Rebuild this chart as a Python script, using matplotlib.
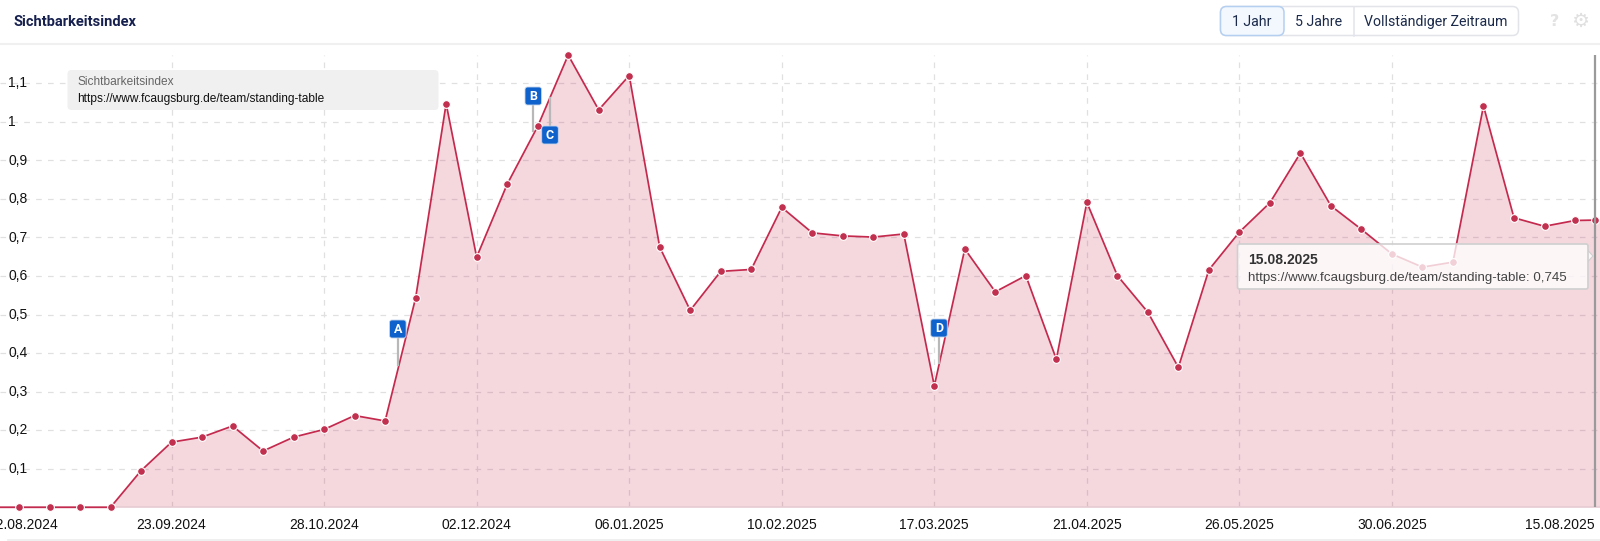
import matplotlib
matplotlib.use("Agg")
import matplotlib.pyplot as plt
import matplotlib.dates as mdates
from matplotlib.patches import FancyBboxPatch, Polygon
import pandas as pd

plt.rcParams['font.family'] = ['Liberation Sans', 'DejaVu Sans']

W, H = 1600, 541

title = "Sichtbarkeitsindex"
url = "https://www.fcaugsburg.de/team/standing-table"
range_buttons = ["1 Jahr", "5 Jahre", "Vollständiger Zeitraum"]

week_start = "2024-08-12"
values = [0, 0, 0, 0, 0, 0.095, 0.169, 0.182, 0.211, 0.146, 0.182, 0.202, 0.238, 0.224,
          0.543, 1.047, 0.649, 0.838, 0.988, 1.173, 1.031, 1.12, 0.675, 0.511,
          0.612, 0.617, 0.778, 0.712, 0.704, 0.701, 0.709, 0.315, 0.670, 0.559, 0.601,
          0.384, 0.791, 0.601, 0.506, 0.363, 0.616, 0.714, 0.79, 0.919, 0.782, 0.721,
          0.657, 0.623, 0.636, 1.041, 0.751, 0.729, 0.744]
last_date = "2025-08-15 14:00"
last_value = 0.745

y_ticks = [0.1, 0.2, 0.3, 0.4, 0.5, 0.6, 0.7, 0.8, 0.9, 1.0, 1.1]
y_labels = ["0,1", "0,2", "0,3", "0,4", "0,5", "0,6", "0,7", "0,8", "0,9", "1", "1,1"]

grid_dates = ["2024-09-23", "2024-10-28", "2024-12-02", "2025-01-06", "2025-02-10",
              "2025-03-17", "2025-04-21", "2025-05-26", "2025-06-30"]
grid_labels = ["23.09.2024", "28.10.2024", "02.12.2024", "06.01.2025", "10.02.2025",
               "17.03.2025", "21.04.2025", "26.05.2025", "30.06.2025"]
first_tick_date = "2024-08-20"
first_tick_label = "12.08.2024"
last_tick_label = "15.08.2025"
tooltip_date = "15.08.2025"
tooltip_value = "0,745"

dates = list(pd.date_range(week_start, periods=len(values), freq="7D")) + [pd.Timestamp(last_date)]
ys = values + [last_value]
xs = mdates.date2num(dates)

fig = plt.figure(figsize=(W / 100, H / 100), dpi=100, facecolor="white")

# plot area in pixels: x 0..1600, y 55..507.3
TOP, BOT = 55, 507.3
ax = fig.add_axes([0, 1 - BOT / H, 1, (BOT - TOP) / H])
PX_DAY = 30.51 / 7
d0 = mdates.date2num(pd.Timestamp("2024-08-19"))
ax.set_xlim(d0 - 19 / PX_DAY, d0 + (W - 19) / PX_DAY)
ax.set_ylim(0, (BOT - TOP) / 385.5)
for s in ax.spines.values():
    s.set_visible(False)
ax.spines['bottom'].set_visible(True)
ax.spines['bottom'].set_color("#e6ccd2")
ax.spines['bottom'].set_linewidth(1.2)
ax.patch.set_alpha(0)

GRID = "#e0e0e0"
dash = (0, (4.5, 5))
ax.hlines(y_ticks, *ax.get_xlim(), colors=GRID, linewidth=0.9, linestyles=[dash], zorder=1)
ax.vlines(mdates.date2num(pd.to_datetime(grid_dates)), 0, ax.get_ylim()[1],
          colors=GRID, linewidth=0.9, linestyles=[dash], zorder=1)

RED = "#c42a4e"
ax.fill_between(list(xs) + [ax.get_xlim()[1]], ys + [last_value], 0, color="#c5284c",
                alpha=0.18, linewidth=0, zorder=2)
ax.plot(xs, ys, color=RED, lw=1.25, zorder=3, clip_on=False)
ax.plot(xs, ys, ls="none", marker="o", ms=5.6, mfc="#c2304f", mec="white", mew=0.8,
        zorder=4, clip_on=False)
ax.axvline(xs[-1], color="#9a9a9a", lw=1.6, zorder=5)

# tick labels
ax.set_yticks([])
tick_pos = [mdates.date2num(pd.Timestamp(first_tick_date))] + \
    list(mdates.date2num(pd.to_datetime(grid_dates))) + [xs[-1]]
tick_txt = [first_tick_label] + grid_labels + [last_tick_label]
ax.set_xticks(tick_pos)
ax.set_xticklabels(tick_txt, fontsize=10, color="#111111")
ax.tick_params(axis='x', length=0, pad=8)
ax.get_xticklabels()[-1].set_ha("right")

# overlay in pixel coordinates
ov = fig.add_axes([0, 0, 1, 1])
ov.set_xlim(0, W)
ov.set_ylim(H, 0)
ov.axis("off")
ov.patch.set_alpha(0)

# y labels
for v, lab in zip(y_ticks, y_labels):
    ov.text(8.3, BOT - v * 385.5 + 0.2, lab, fontsize=10, color="#111111", ha="left", va="center")

# header
ov.plot([0, W], [44, 44], color="#f0f0f0", lw=1.5)
ov.text(14, 22, title, family="Roboto", fontsize=10.5, fontweight="bold", color="#16204f",
        ha="left", va="center")

# range buttons
ov.add_patch(FancyBboxPatch((1220.5, 6.5), 298, 29, boxstyle="round,pad=0,rounding_size=6",
                            fc="white", ec="#e2e4ea", lw=1.1))
ov.add_patch(FancyBboxPatch((1220.5, 6.5), 63.5, 29, boxstyle="round,pad=0,rounding_size=6",
                            fc="#f3f8ff", ec="#b4cff0", lw=1.1))
ov.plot([1354.3, 1354.3], [6.5, 35.5], color="#e2e4ea", lw=1.1)
for cx, lab in zip([1252, 1319, 1436], range_buttons):
    ov.text(cx, 22, lab, family="Roboto", fontsize=10.2, color="#1b2a4a", ha="center", va="center")
ov.text(1554.7, 22, "?", family="DejaVu Sans", fontsize=11.5, fontweight="bold", color="#e3e3e3",
        ha="center", va="center")
ov.text(1580, 21.7, "\u2699", family="DejaVu Sans", fontsize=14.5, color="#e0e0e0", ha="center", va="center")

# legend box
ov.add_patch(FancyBboxPatch((67.5, 70), 371, 40, boxstyle="round,pad=0,rounding_size=4",
                            fc="#f0f0f0", ec="none", zorder=5))
ov.text(77, 81.7, title, fontsize=8.6, color="#666666", ha="left", va="center", zorder=6)
ov.text(77, 99, url, fontsize=8.6, color="#111111", ha="left", va="center", zorder=6)

# event flags
BLUE = "#0f62cc"
flags = [("A", 389.5, 320, 397.7, 338, 365), ("B", 525, 87, 533.3, 105, 131),
         ("C", 541.7, 126, 550, 126, 98), ("D", 930.7, 319, 939, 337, 363)]
for lab, x0, y0, sx, s0, s1 in flags:
    ov.plot([sx, sx], [s0, s1], color="#b8b8b8", lw=1.6, zorder=6)
    ov.add_patch(FancyBboxPatch((x0, y0), 16.6, 18, boxstyle="round,pad=0,rounding_size=2.5",
                                fc=BLUE, ec="#c8d6ea", lw=0.6, zorder=7))
    ov.text(x0 + 8.3, y0 + 9.5, lab, fontsize=9, fontweight="bold", color="white",
            ha="center", va="center", zorder=8, family="Roboto")

# tooltip
ov.add_patch(Polygon([(1587.5, 250), (1593, 256), (1587.5, 262)], closed=True,
                     fc="#fbf6f7", ec="#d0d0d0", lw=0.8, zorder=8))
ov.add_patch(FancyBboxPatch((1237.5, 244), 350.5, 45, boxstyle="round,pad=0,rounding_size=2",
                            fc=(1, 1, 1, 0.78), ec="#cfcfcf", lw=1.2, zorder=9))
ov.text(1248.3, 259.5, tooltip_date, fontsize=10, fontweight="bold", color="#333333",
        ha="left", va="center", zorder=10)
ov.text(1248.3, 277.5, url + ": " + tooltip_value, fontsize=9.6, color="#444444",
        ha="left", va="center", zorder=10)

# card bottom edge
ov.plot([8, W], [540, 540], color="#ececec", lw=1.2)

fig.savefig("out.png", dpi=100, facecolor="white")
